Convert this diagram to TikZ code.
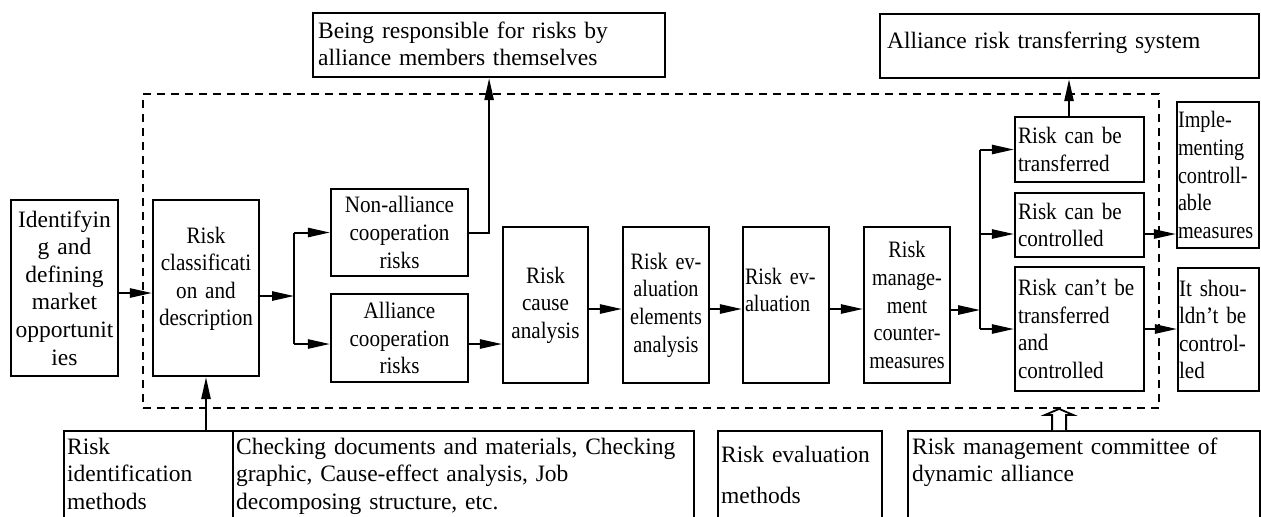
\documentclass[tikz,border=0pt]{standalone}
\usepackage{fontspec}
\setmainfont{Liberation Serif}
\newfontfamily\condfont{Liberation Serif}[FakeStretch=0.9]
\newfontfamily\narrowfont{Liberation Serif}[FakeStretch=0.86]
\usetikzlibrary{arrows.meta, positioning}

\tikzset{
  box/.style={draw, line width=1.1pt, inner sep=1pt, align=center},
  lbox/.style={draw, line width=1.1pt, inner sep=2pt, align=left, anchor=north west},
  cond/.style={font=\fontsize{11.75pt}{13.8pt}\condfont},
  narrow/.style={font=\fontsize{11.75pt}{13.8pt}\narrowfont},
  frame/.style={draw, dash pattern=on 4pt off 3pt, line width=0.9pt},
  link/.style={line width=1pt},
  arr/.style={line width=1pt, -{Triangle[length=11pt, width=4.6pt]}},
  hollowarr/.style={line width=0.9pt, line join=miter, fill=white},
}

\begin{document}
\begin{tikzpicture}[x=0.5pt, y=-0.5pt, font=\fontsize{11.75pt}{13.8pt}\selectfont]
  \useasboundingbox (0,0) rectangle (1261,516);

  % Dashed frame round the risk analysis steps
  \node[frame, minimum width=508pt, minimum height=157pt] (frame) at (651,251) {};

  % Start and classification
  \node[box, text width=51.5pt, minimum height=88pt] (ident) at (64.5,288)
    {Identifyin\\g and\\defining\\market\\opportunit\\ies};
  \node[box, cond, text width=51pt, minimum height=88pt, text depth=53pt] (classif) at (206,288)
    {Risk\\classificati\\on and\\description};

  % Two kinds of risks
  \node[box, cond, text width=66.5pt, minimum height=43.5pt] (nonall) at (399.5,232.5)
    {Non-alliance\\cooperation\\risks};
  \node[box, cond, text width=66.5pt, minimum height=44pt] (alli) at (399.5,338)
    {Alliance\\cooperation\\risks};

  % Analysis chain
  \node[box, cond, text width=40.5pt, minimum height=78pt] (cause) at (545.5,305)
    {Risk\\cause\\analysis};
  \node[box, narrow, text width=41pt, minimum height=78pt] (elem) at (666,305)
    {Risk ev-\\aluation\\elements\\analysis};
  \node[box, narrow, align=left, text width=41pt, minimum height=78pt, text depth=29pt] (evalu) at (786,305)
    {Risk ev-\\aluation};
  \node[box, narrow, text width=41pt, minimum height=78pt] (mgmt) at (907,305)
    {Risk\\manage-\\ment\\counter-\\measures};

  % Outcomes
  \node[box, cond, align=left, inner xsep=1.5pt, text width=61.5pt, minimum height=32.5pt] (trans) at (1079.5,149.5)
    {Risk can be\\transferred};
  \node[box, cond, align=left, inner xsep=1.5pt, text width=61.5pt, minimum height=32pt] (ctrl) at (1079.5,225)
    {Risk can be\\controlled};
  \node[box, cond, align=left, inner xsep=1.5pt, text width=61.5pt, minimum height=62pt] (cant) at (1079.5,329)
    {Risk can’t be\\transferred\\and\\controlled};
  \node[box, narrow, align=left, inner sep=0.5pt, text width=40pt, minimum height=73pt] (impl) at (1218,175)
    {Imple-\\menting\\controll-\\able\\measures};
  \node[box, cond, align=left, inner sep=0.5pt, text width=39.5pt, minimum height=61.5pt] (shouldnt) at (1218.5,329.5)
    {It shou-\\ldn’t be\\control-\\led};

  % Top boxes
  \node[lbox, inner sep=2.5pt, text width=171pt, text height=10pt, text depth=17pt] (being) at (312,12)
    {Being responsible for risks by\\alliance members themselves};
  \node[lbox, inner sep=3.5pt, text width=182.5pt, text height=13.5pt, text depth=11.5pt] (sys) at (879,13)
    {Alliance risk transferring system};

  % Bottom boxes (cut by the page edge)
  \node[lbox, inner sep=1.5pt, text width=81.5pt, text height=10pt, text depth=60pt] (rid) at (63,430)
    {Risk\\identification\\methods};
  \node[lbox, inner sep=1.5pt, text width=227.5pt, text height=10pt, text depth=60pt] (chk) at (232,430)
    {Checking documents and materials, Checking\\graphic, Cause-effect analysis, Job\\decomposing structure, etc.};
  \node[lbox, inner sep=1.5pt, text width=79pt, text height=14pt, text depth=60pt] (rem) at (717,430)
    {Risk evaluation\\[6.7pt]methods};
  \node[lbox, inner sep=2pt, text width=172pt, text height=9.5pt, text depth=60pt] (comm) at (907,430)
    {Risk management committee of\\dynamic alliance};

  % Connectors
  \draw[arr] ([yshift=-2.5pt]ident.east) -- ([yshift=-2.5pt]classif.west);
  \path ([yshift=-4pt]classif.east) ++(34,0) coordinate (jl);
  \draw[arr] ([yshift=-4pt]classif.east) -- (jl);
  \coordinate (alliin) at ([yshift=-3pt]alli.west);
  \coordinate (alliout) at ([yshift=-3pt]alli.east);
  \draw[link] (jl |- nonall.west) -- (jl |- alliin);
  \draw[arr] (jl |- nonall.west) -- (nonall.west);
  \draw[arr] (jl |- alliin) -- (alliin);
  \draw[arr] (nonall.east) -| (being.south);
  \draw[arr] (alliout) -- (alliout -| cause.west);
  \draw[arr] ([yshift=-2pt]cause.east) -- ([yshift=-2pt]elem.west);
  \draw[arr] ([yshift=-2pt]elem.east) -- ([yshift=-2pt]evalu.west);
  \draw[arr] ([yshift=-2pt]evalu.east) -- ([yshift=-2pt]mgmt.west);

  \path ([yshift=-2.5pt]mgmt.east) ++(29,0) coordinate (jr);
  \draw[arr] ([yshift=-2.5pt]mgmt.east) -- (jr);
  \draw[link] (jr |- trans.west) -- (jr |- cant.west);
  \draw[arr] (jr |- trans.west) -- (trans.west);
  \coordinate (ctrlin) at ([yshift=-4.5pt]ctrl.west);
  \coordinate (ctrlout) at ([yshift=-4.5pt]ctrl.east);
  \draw[arr] (jr |- ctrlin) -- (ctrlin);
  \draw[arr] (jr |- cant.west) -- (cant.west);
  \draw[arr] (ctrlout) -- (ctrlout -| impl.west);
  \draw[arr] (cant.east) -- (cant.east -| shouldnt.west);

  \coordinate (transup) at ([xshift=-5.25pt]trans.north);
  \draw[arr] (transup) -- (transup |- sys.south);
  \draw[arr] (classif.south |- rid.north) -- (classif.south);

  % Hollow double arrow from the committee
  \coordinate (commup) at ([xshift=-12.5pt]comm.north);
  \coordinate (commtip) at (commup |- frame.south);
  \draw[hollowarr] ([xshift=-3.5pt]commup) -- ([xshift=-3.5pt, yshift=-3pt]commtip)
    -- ([xshift=-7pt, yshift=-3pt]commtip) -- (commtip) -- ([xshift=7pt, yshift=-3pt]commtip)
    -- ([xshift=3.5pt, yshift=-3pt]commtip) -- ([xshift=3.5pt]commup);
\end{tikzpicture}
\end{document}
